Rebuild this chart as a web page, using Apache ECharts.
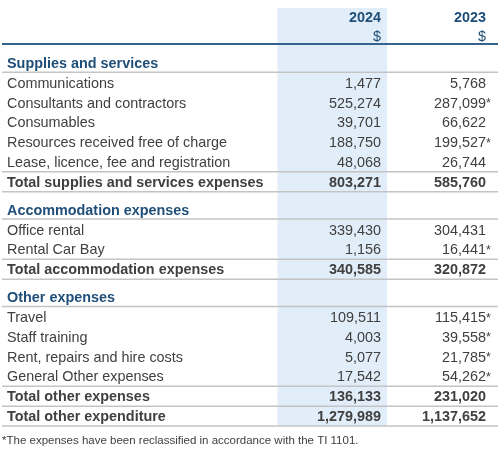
<!DOCTYPE html>
<html>
<head>
<meta charset="utf-8">
<script src="https://cdn.jsdelivr.net/npm/echarts@6/dist/echarts.min.js"></script>
<style>
html,body{margin:0;padding:0;background:#fff;}
#chart{width:500px;height:455px;}
</style>
</head>
<body>
<div id="chart"></div>
<script>
// ---- Data ----
const years = ['2024', '2023'];
const currencyLabel = '$';
const sections = ['Supplies and services', 'Accommodation expenses', 'Other expenses'];
const categories = [
  'Communications',
  'Consultants and contractors',
  'Consumables',
  'Resources received free of charge',
  'Lease, licence, fee and registration',
  'Total supplies and services expenses',
  'Office rental',
  'Rental Car Bay',
  'Total accommodation expenses',
  'Travel',
  'Staff training',
  'Rent, repairs and hire costs',
  'General Other expenses',
  'Total other expenses',
  'Total other expenditure'
];
const categorySection = [0, 0, 0, 0, 0, 0, 1, 1, 1, 2, 2, 2, 2, 2, 2];
const categoryIsTotal = [false, false, false, false, false, true, false, false, true, false, false, false, false, true, true];
const values2024 = [1477, 525274, 39701, 188750, 48068, 803271, 339430, 1156, 340585, 109511, 4003, 5077, 17542, 136133, 1279989];
const values2023 = [5768, 287099, 66622, 199527, 26744, 585760, 304431, 16441, 320872, 115415, 39558, 21785, 54262, 231020, 1137652];
const reclassified2023 = [false, true, false, true, false, false, false, true, false, true, true, true, true, false, false];
const footnote = '*The expenses have been reclassified in accordance with the TI 1101.';

// ---- Layout (pixel-like axis units) ----
const FONT = '"Liberation Sans", Arial, sans-serif';
const FS = 14.4;
const ROW = 19.75;
const LABEL_X = 7;
const TEXT_DY = 0.8;
const COL_RIGHT = [381, 486];
const COL_BAND = [277.5, 387];
const C_TEXT = '#404040';
const C_BLUE = '#1f4e79';

const cells = [];
const rules = [];
function addText(x, y, text, align, weight, color, size) {
  cells.push({ x, y: y + TEXT_DY, text, align, weight, color, size: size || FS });
}

// header rows
const yearY = 17, curY = 36;
years.forEach((yr, i) => {
  addText(COL_RIGHT[i], yearY, yr, 'right', 'bold', C_BLUE);
  addText(COL_RIGHT[i], curY, currencyLabel, 'right', 'normal', C_BLUE);
});
const thickRuleY = 44;

let y = 63;
let prevSection = -1;
let prevTotal = false;
categories.forEach((cat, i) => {
  const sec = categorySection[i];
  if (sec !== prevSection) {
    if (prevSection !== -1) y += 28 - ROW;
    addText(LABEL_X, y, sections[sec], 'left', 'bold', C_BLUE);
    rules.push(y + 9.2);
    y += 20;
    prevSection = sec;
    prevTotal = false;
  }
  const tot = categoryIsTotal[i];
  if (tot && !prevTotal) rules.push(y - 10);
  const w = tot ? 'bold' : 'normal';
  addText(LABEL_X, y, cat, 'left', w, C_TEXT);
  addText(COL_RIGHT[0], y, values2024[i].toLocaleString('en-US'), 'right', w, C_TEXT);
  addText(COL_RIGHT[1], y, values2023[i].toLocaleString('en-US'), 'right', w, C_TEXT);
  if (reclassified2023[i]) addText(COL_RIGHT[1], y, '*', 'left', 'normal', C_TEXT, 12.5);
  if (tot) rules.push(y + 10);
  prevTotal = tot;
  y += ROW;
});
const bandBottom = rules[rules.length - 1];
addText(2, bandBottom + 14.5, footnote, 'left', 'normal', C_TEXT, 11.5);

const chart = echarts.init(document.getElementById('chart'), null, { renderer: 'canvas' });
chart.setOption({
  backgroundColor: '#ffffff',
  animation: false,
  grid: { left: 0, right: 0, top: 0, bottom: 0 },
  xAxis: { type: 'value', min: 0, max: 500, show: false },
  yAxis: { type: 'value', min: 0, max: 455, inverse: true, show: false },
  series: [
    {
      type: 'custom',
      silent: true,
      z: 1,
      data: [[COL_BAND[0], 8, COL_BAND[1], bandBottom]],
      renderItem: function (params, api) {
        const p1 = api.coord([api.value(0), api.value(1)]);
        const p2 = api.coord([api.value(2), api.value(3)]);
        return { type: 'rect', shape: { x: p1[0], y: p1[1], width: p2[0] - p1[0], height: p2[1] - p1[1] }, style: { fill: '#e1eef9' } };
      }
    },
    {
      type: 'custom',
      silent: true,
      z: 2,
      data: [[thickRuleY, 1]].concat(rules.map(r => [r, 0])),
      renderItem: function (params, api) {
        const a = api.coord([2, api.value(0)]);
        const b = api.coord([498, api.value(0)]);
        const thick = api.value(1) === 1;
        return { type: 'line', shape: { x1: a[0], y1: a[1], x2: b[0], y2: b[1] }, style: { stroke: thick ? '#35638d' : '#c4c4c4', lineWidth: thick ? 2 : 1.6 } };
      }
    },
    {
      type: 'custom',
      silent: true,
      z: 3,
      data: cells.map(c => [c.x, c.y]),
      renderItem: function (params, api) {
        const c = cells[params.dataIndex];
        const p = api.coord([api.value(0), api.value(1)]);
        return {
          type: 'text',
          x: p[0], y: p[1],
          style: {
            text: c.text,
            fill: c.color,
            font: c.weight + ' ' + c.size + 'px ' + FONT,
            align: c.align,
            verticalAlign: 'middle'
          }
        };
      }
    }
  ]
});
</script>
</body>
</html>
